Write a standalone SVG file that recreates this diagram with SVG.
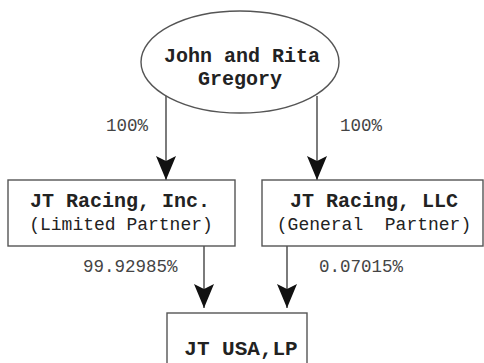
<svg xmlns="http://www.w3.org/2000/svg" width="484" height="363" viewBox="0 0 484 363">
<style>
.shape{fill:#fff;stroke:#555;stroke-width:1.4}
.t{font-family:"Liberation Mono","Courier New",monospace;fill:#222;text-anchor:middle}
.b{font-weight:bold;font-size:20px}
.s{font-size:18px}
.p{font-family:"Liberation Mono","Courier New",monospace;fill:#444;font-size:17.5px}
.c{stroke:#444;stroke-width:1.4;fill:none}
</style>
<defs>
<marker id="ah" viewBox="0 0 24 20" refX="24" refY="10" markerWidth="24" markerHeight="20" markerUnits="userSpaceOnUse" orient="auto">
<path d="M0,0 L5,10 L0,20 L24,10 Z" fill="#111"/>
</marker>
</defs>
<rect width="484" height="363" fill="#fff"/>
<g id="connectors">
<line class="c" x1="166" y1="92" x2="166" y2="180" marker-end="url(#ah)"/>
<line class="c" x1="317" y1="96" x2="317" y2="180" marker-end="url(#ah)"/>
<line class="c" x1="204" y1="246" x2="204" y2="308" marker-end="url(#ah)"/>
<line class="c" x1="287" y1="246" x2="287" y2="308" marker-end="url(#ah)"/>
<text class="p" x="106" y="131">100%</text>
<text class="p" x="340" y="131">100%</text>
<text class="p" x="83" y="272">99.92985%</text>
<text class="p" x="319" y="272">0.07015%</text>
</g>
<g id="gregory">
<ellipse class="shape" cx="240" cy="62" rx="99" ry="51"/>
<text class="t b" x="242" y="62">John and Rita</text>
<text class="t b" x="240" y="85">Gregory</text>
</g>
<g id="jt-racing-inc">
<rect class="shape" x="8" y="180" width="227" height="66"/>
<text class="t b" x="120" y="207">JT Racing, Inc.</text>
<text class="t s" x="121" y="230">(Limited Partner)</text>
</g>
<g id="jt-racing-llc">
<rect class="shape" x="262" y="180" width="221" height="66"/>
<text class="t b" x="374" y="207">JT Racing, LLC</text>
<text class="t s" x="374" y="230" xml:space="preserve">(General  Partner)</text>
</g>
<g id="jt-usa">
<rect class="shape" x="167" y="313" width="140" height="60"/>
<text class="t b" x="241" y="355" style="font-size:21px">JT USA,LP</text>
</g>
</svg>
